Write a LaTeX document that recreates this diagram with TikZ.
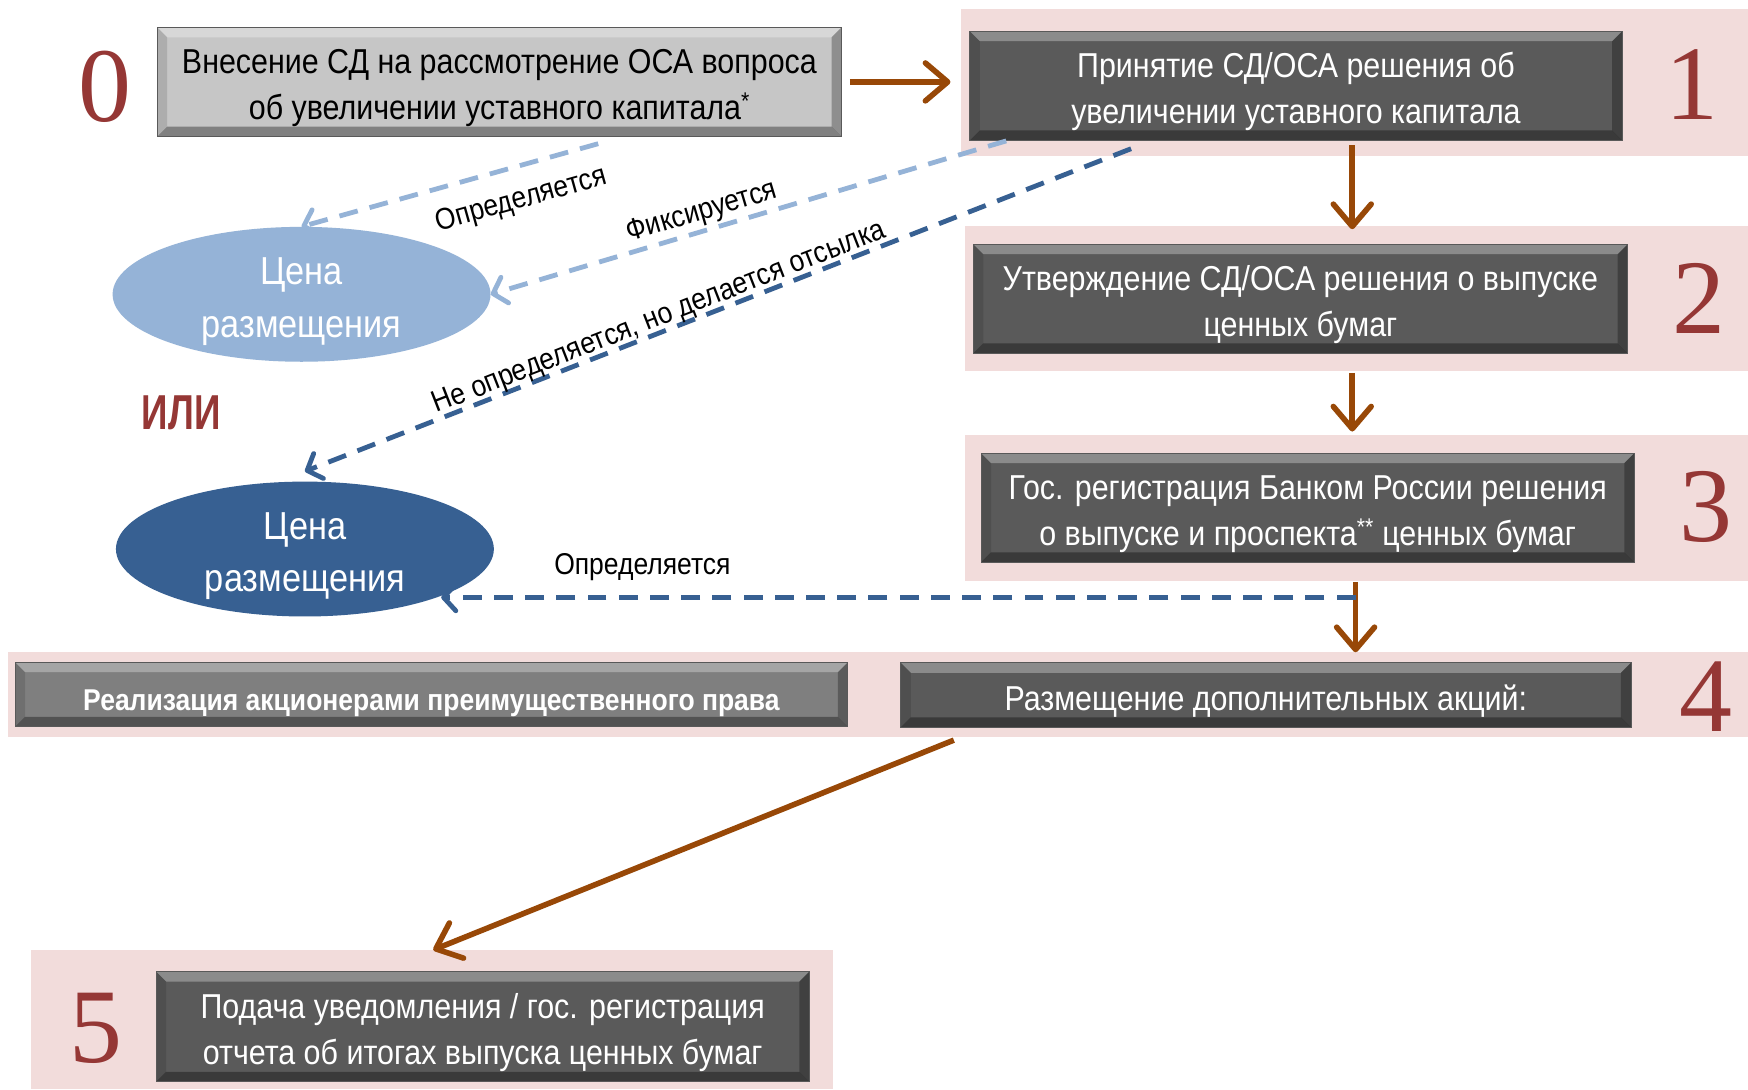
\documentclass[tikz,border=0pt]{standalone}
\usepackage{fontspec}
\setmainfont{Liberation Sans}
\newfontfamily\nar{Liberation Sans}[FakeStretch=0.88]
\newfontfamily\narili{Liberation Sans}[FakeStretch=0.75]
\newfontfamily\digitfont{Liberation Serif}
\usetikzlibrary{arrows.meta,calc,shapes.geometric}
\definecolor{bandpink}{HTML}{F2DCDB}
\definecolor{numred}{HTML}{953735}
\definecolor{arrbrown}{HTML}{984807}
\definecolor{boxdark}{HTML}{5A5A5A}
\definecolor{boxmid}{HTML}{7F7F7F}
\definecolor{boxlight}{HTML}{C6C6C6}
\definecolor{bluelight}{HTML}{95B3D7}
\definecolor{bluedark}{HTML}{376092}
\tikzset{
  bevel/.style={path picture={
    \fill[white,opacity=.30] (path picture bounding box.north west) -- (path picture bounding box.north east) -- ([xshift=-9pt,yshift=-9pt]path picture bounding box.north east) -- ([xshift=9pt,yshift=-9pt]path picture bounding box.north west) -- cycle;
    \fill[black,opacity=.35] (path picture bounding box.south west) -- (path picture bounding box.south east) -- ([xshift=-9pt,yshift=9pt]path picture bounding box.south east) -- ([xshift=9pt,yshift=9pt]path picture bounding box.south west) -- cycle;
    \fill[black,opacity=.12] (path picture bounding box.north west) -- ([xshift=9pt,yshift=-9pt]path picture bounding box.north west) -- ([xshift=9pt,yshift=9pt]path picture bounding box.south west) -- (path picture bounding box.south west) -- cycle;
    \fill[black,opacity=.28] (path picture bounding box.north east) -- ([xshift=-9pt,yshift=-9pt]path picture bounding box.north east) -- ([xshift=-9pt,yshift=9pt]path picture bounding box.south east) -- (path picture bounding box.south east) -- cycle;
  }},
  oneline/.style={execute at begin node={\rule{0pt}{34pt}}},
  twoline/.style={execute at begin node={\rule{0pt}{74pt}}},
  darkbox/.style={rectangle, fill=boxdark, draw=black!65, line width=0.8pt, bevel,
    minimum height=98pt, inner sep=0pt, text=white, align=center,
    font=\nar\fontsize{31}{41}\selectfont},
  lightbox/.style={darkbox, fill=boxlight, text=black},
  midbox/.style={darkbox, fill=boxmid, font=\nar\bfseries\fontsize{27}{30}\selectfont},
  ell/.style={ellipse, minimum width=339pt, minimum height=121pt, inner sep=-25pt,
    text=white, align=center, font=\nar\fontsize{35}{47}\selectfont,
    execute at begin node={\rule{0pt}{84pt}}},
  digit/.style={text=numred, inner sep=0pt, font=\digitfont\fontsize{95}{95}\selectfont},
  lab/.style={text=black, inner sep=1pt, font=\nar\fontsize{27}{27}\selectfont},
  brarrow/.style={draw=arrbrown, line width=5pt, -{Straight Barb[length=20pt,width=34pt,round]}},
  dasharrow/.style={line width=4.3pt, dash pattern=on 17pt off 11pt, -{Straight Barb[length=11pt,width=24pt,round]}}
}
\begin{document}
\begin{tikzpicture}[x=1pt,y=-1pt]
\useasboundingbox (0,0) rectangle (1568,977);
\fill[white] (0,0) rectangle (1568,977);
% pink bands
\fill[bandpink] (862,8) rectangle (1568,140);
\fill[bandpink] (866,203) rectangle (1568,333);
\fill[bandpink] (866,390) rectangle (1568,521);
\fill[bandpink] (7,585) rectangle (1568,661);
\fill[bandpink] (28,852) rectangle (747,977);
% column coordinates
\coordinate (ax) at (1213,0);
\coordinate (ay) at (1216,0);
% boxes
\node[lightbox, twoline, minimum width=614pt] (b0) at (448,73.5) {Внесение СД на рассмотрение ОСА вопроса\\об увеличении уставного капитала\textsuperscript{*}};
\node[darkbox, twoline, minimum width=585pt] (b1) at (1162.5,77) {Принятие СД/ОСА решения об\\увеличении уставного капитала};
\node[darkbox, twoline, minimum width=587pt] (b2) at (1166.5,268) {Утверждение СД/ОСА решения о выпуске\\ценных бумаг};
\node[darkbox, twoline, minimum width=586pt] (b3) at (1173,455.5) {Гос. регистрация Банком России решения\\о выпуске и проспекта\textsuperscript{**} ценных бумаг};
\node[darkbox, oneline, minimum width=655pt, minimum height=58pt] (b4) at (1135.5,623.5) {Размещение дополнительных акций:};
\node[midbox, oneline, minimum width=747pt, minimum height=58pt] (b4l) at (387,623) {Реализация акционерами преимущественного права};
\node[darkbox, twoline, minimum width=586pt, minimum height=99pt] (b5) at (433,921) {Подача уведомления / гос. регистрация\\отчета об итогах выпуска ценных бумаг};
% ellipses
\node[ell, fill=bluelight] (e1) at (270.5,264) {Цена\\размещения};
\node[ell, fill=bluedark] (e2) at (273.5,492.5) {Цена\\размещения};
% numbers
\node[digit] (n0) at (94,78) {0};
\node[digit] (n1) at (1518,76) {1};
\node[digit] (n2) at (1524,268) {2};
\node[digit] (n3) at (1530,455) {3};
\node[digit] (n4) at (1530,625) {4};
\node[digit] (n5) at (86,922) {5};
\node[text=numred, inner sep=0pt, font=\narili\bfseries\fontsize{44}{44}\selectfont] (ili) at (162.5,370) {ИЛИ};
% brown arrows
\draw[brarrow] ($(b0.east)+(7,0)$) -- ($(b1.west|-b0.east)+(-17,0)$);
\draw[brarrow] ($(b1.south-|ax)+(0,4)$) -- ($(b2.north-|ax)+(0,-13)$);
\draw[brarrow] ($(b2.south-|ax)+(0,17)$) -- ($(b3.north-|ax)+(0,-19)$);
\draw[brarrow] ($(b3.south-|ay)+(0,17)$) -- ($(b4.north-|ay)+(0,-9)$);
\draw[brarrow] ($(b4.south west)+(48,11)$) -- ($(b5.north west)+(249,-19)$);
% dashed arrows
\draw[dasharrow, draw=bluelight] ($(b0.south west)+(396,6)$) -- (e1.north)
  node[lab, sloped, pos=0.29, below=15pt] {Определяется};
\draw[dasharrow, draw=bluelight] ($(b1.south west)+(33,0)$) -- (e1.east)
  node[lab, sloped, pos=0.58, above=1pt] {Фиксируется};
\draw[dasharrow, draw=bluedark] ($(b1.south west)+(145,7)$) -- ($(e2.north)+(0,-9)$)
  node[lab, sloped, pos=0.565, above=-3pt] {Не определяется, но делается отсылка};
\coordinate (j) at ($(b3.south-|ay)+(0,31)$);
\draw[dasharrow, draw=bluedark] (j) -- (j-|e2.-19)
  node[lab, pos=0.78, above=12pt] {Определяется};
\end{tikzpicture}
\end{document}
